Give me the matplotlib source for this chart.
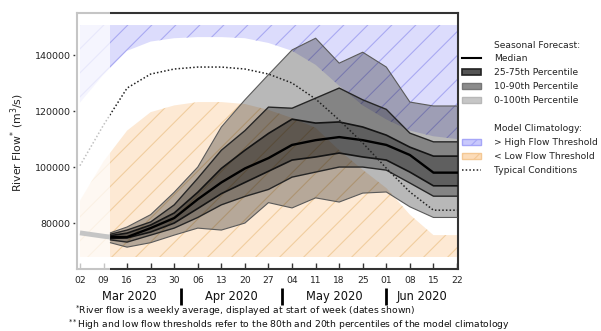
import matplotlib
matplotlib.use("Agg")
import matplotlib.pyplot as plt
import matplotlib.dates as mdates
import matplotlib.transforms as mtransforms
import numpy as np
import pandas as pd
from matplotlib.lines import Line2D
from matplotlib.patches import Patch, Rectangle
from matplotlib.collections import LineCollection

# ---------------- data ----------------
clim_dates = ["2020-03-02", "2020-03-09", "2020-03-16", "2020-03-23", "2020-03-30",
              "2020-04-06", "2020-04-13", "2020-04-20", "2020-04-27", "2020-05-04",
              "2020-05-11", "2020-05-18", "2020-05-25", "2020-06-01", "2020-06-08",
              "2020-06-15", "2020-06-22"]
high_thresh = [123000, 133000, 141500, 144800, 146000, 146400, 146400, 146000, 144300,
               141500, 136500, 129000, 122000, 117000, 113000, 111000, 110000]
low_thresh = [88000, 102000, 113000, 119600, 122000, 123200, 123200, 122500, 120400,
              117500, 114000, 106000, 99000, 92500, 83000, 75700, 75700]
typical = [100500, 115000, 128200, 133200, 135000, 135700, 135700, 135000, 133200,
           130000, 124300, 116800, 108600, 99600, 91100, 84600, 84600]
clim_top = 150700
clim_bottom = 67900

obs_dates = ["2020-03-02", "2020-03-09", "2020-03-11"]
obs_flow = [76500, 75300, 75000]

fc_dates = ["2020-03-11", "2020-03-16", "2020-03-23", "2020-03-30", "2020-04-06",
            "2020-04-13", "2020-04-20", "2020-04-27", "2020-05-04", "2020-05-11",
            "2020-05-18", "2020-05-25", "2020-06-01", "2020-06-08", "2020-06-15",
            "2020-06-22"]
p100 = [76500, 78600, 83000, 91000, 100000, 114300, 124000, 133000, 141800, 146000,
        137100, 141000, 135700, 123200, 121800, 121800]
p90 = [76000, 77500, 80400, 86500, 96000, 106000, 113000, 121400, 121000, 124600,
       128200, 124000, 120600, 112100, 109000, 109000]
p75 = [75500, 76400, 79300, 83600, 91000, 99500, 106000, 112000, 117100, 115700,
       116100, 114300, 111400, 107100, 103900, 103900]
p50 = [75000, 75000, 78200, 81800, 88500, 94500, 99500, 103200, 107900, 109600,
       110700, 109600, 107900, 104300, 98000, 98000]
p25 = [74500, 74700, 76800, 80000, 85200, 90500, 94500, 98500, 102500, 103600,
       105000, 103600, 102500, 98200, 93300, 93300]
p10 = [74000, 73200, 75700, 78200, 82000, 86500, 89500, 92000, 96400, 98200,
       100000, 100000, 98900, 94300, 89600, 89600]
p0 = [73000, 71400, 73000, 75700, 78200, 77500, 80000, 87300, 85400, 89000,
      87500, 90700, 91100, 85800, 82000, 82000]

months = ["Mar 2020", "Apr 2020", "May 2020", "Jun 2020"]
month_starts = ["2020-03-01", "2020-04-01", "2020-05-01", "2020-06-01", "2020-07-01"]

# ---------------- figure ----------------
W, H = 601, 331
fig = plt.figure(figsize=(W / 100, H / 100), dpi=100)
ax_l, ax_r, ax_t, ax_b = 77 / W, 458 / W, 1 - 13 / H, 1 - 269 / H
ax = fig.add_axes([ax_l, ax_b, ax_r - ax_l, ax_t - ax_b])

cd = pd.to_datetime(clim_dates)
fd = pd.to_datetime(fc_dates)
od = pd.to_datetime(obs_dates)

x0 = pd.Timestamp("2020-03-02") - pd.Timedelta(hours=21)
x1 = pd.Timestamp("2020-06-22") + pd.Timedelta(hours=7)
ax.set_xlim(x0, x1)
ax.set_ylim(63600, 155000)

blue_fill, blue_hatch = "#dcdcfc", "#a9a9f2"
orng_fill, orng_hatch = "#fde9d4", "#f1cd9f"

hi = ax.fill_between(cd, high_thresh, clim_top, facecolor=blue_fill, edgecolor="none", zorder=1)
lo = ax.fill_between(cd, clim_bottom, low_thresh, facecolor=orng_fill, edgecolor="none", zorder=1)

# manual sparse hatch, clipped to climatology regions
axw_px = (ax_r - ax_l) * W
axh_px = (ax_t - ax_b) * H
dx = 24 / axw_px
slope_dx = axh_px / axw_px
starts = np.arange(-1.2, 1.2, dx)
segs = [[(s, 0), (s + slope_dx, 1)] for s in starts]
for coll, col in ((hi, blue_hatch), (lo, orng_hatch)):
    lc = LineCollection(segs, colors=col, linewidths=0.8, transform=ax.transAxes, zorder=1.5)
    ax.add_collection(lc)
    lc.set_clip_path(coll.get_paths()[0], coll.get_transform())

# forecast bands
band_kw = dict(facecolor="black", alpha=0.28, edgecolor="none", zorder=3)
ax.fill_between(fd, p0, p100, **band_kw)
ax.fill_between(fd, p10, p90, **band_kw)
ax.fill_between(fd, p25, p75, **band_kw)
ax.plot(fd, p100, color="#5a5a5a", lw=0.8, zorder=4)
ax.plot(fd, p0, color="#5a5a5a", lw=0.8, zorder=4)
ax.plot(fd, p90, color="#262626", lw=1.0, zorder=4)
ax.plot(fd, p10, color="#262626", lw=1.0, zorder=4)
ax.plot(fd, p75, color="#141414", lw=1.2, zorder=4)
ax.plot(fd, p25, color="#141414", lw=1.2, zorder=4)
ax.plot(fd, p50, color="black", lw=1.7, zorder=4)
ax.plot(od, obs_flow, color="#333333", lw=3.5, zorder=4, solid_capstyle="butt")

# typical conditions
ax.plot(cd, typical, color="#222222", lw=1.1, linestyle=(0, (1, 1.4)), zorder=5)

# faded past (before forecast start)
trans = mtransforms.blended_transform_factory(ax.transData, ax.transAxes)
fstart = mdates.date2num(fd[0])
xl = mdates.date2num(x0) - 0.6
ax.add_patch(Rectangle((xl, -0.012), fstart - xl, 1.024, transform=trans,
                       facecolor="white", alpha=0.72, edgecolor="none",
                       zorder=10, clip_on=False))

# axes styling
for sp in ax.spines.values():
    sp.set_color("#333333")
    sp.set_linewidth(1.5)
ax.xaxis.set_major_locator(mdates.WeekdayLocator(byweekday=mdates.MO))
ax.xaxis.set_major_formatter(mdates.DateFormatter("%d"))
ax.tick_params(axis="x", direction="in", length=4, width=1, color="#333333",
               labelsize=6.6, pad=5, labelcolor="#222222")
ax.tick_params(axis="y", direction="out", length=3, width=1, color="#333333",
               labelsize=6.8, pad=1.5, labelcolor="#222222")
ax.set_yticks([80000, 100000, 120000, 140000])
ax.set_yticklabels(["80000", "100000", "120000", "140000"])

# month labels and separators
xt = ax.get_xaxis_transform()
ms = [mdates.date2num(pd.Timestamp(m)) for m in month_starts]
ms[0] = mdates.date2num(x0)
ms[-1] = mdates.date2num(x1)
for i, name in enumerate(months):
    ax.text((ms[i] + ms[i + 1]) / 2, -0.109, name, transform=xt, ha="center",
            va="center", fontsize=8.3, color="#111111")
for m in month_starts[1:4]:
    xm = mdates.date2num(pd.Timestamp(m))
    ax.plot([xm, xm], [-0.074, -0.142], transform=xt, color="black", lw=2.0,
            clip_on=False, solid_capstyle="butt")

fig.text(0.028, 0.57, "River Flow$^{*}$ (m$^{3}$/s)", rotation=90, ha="center",
         va="center", fontsize=7.8, color="#222222")
fig.text(75 / W, 1 - 310.5 / H, "$^{*}$River flow is a weekly average, displayed at start of week (dates shown)",
         ha="left", va="center", fontsize=6.7, color="#111111")
fig.text(68 / W, 1 - 324.5 / H,
         "$^{**}$High and low flow thresholds refer to the 80th and 20th percentiles of the model climatology",
         ha="left", va="center", fontsize=6.7, color="#111111")

# legend
blank = Line2D([], [], color="none")
handles = [
    blank,
    Line2D([], [], color="black", lw=1.5),
    Patch(facecolor="#555555", edgecolor="#222222", lw=1.2),
    Patch(facecolor="#8c8c8c", edgecolor="#777777", lw=1.0),
    Patch(facecolor="#c6c6c6", edgecolor="#b8b8b8", lw=1.0),
    blank,
    blank,
    Patch(facecolor="#c9c9fc", edgecolor="#a6a6f8", hatch="//", lw=1.0),
    Patch(facecolor="#fcdcb9", edgecolor="#f4c894", hatch="//", lw=1.0),
    Line2D([], [], color="#222222", lw=1.1, linestyle=(0, (1, 1.4))),
]
labels = ["Seasonal Forecast:", "Median", "25-75th Percentile", "10-90th Percentile",
          "0-100th Percentile", "", "Model Climatology:", "> High Flow Threshold",
          "< Low Flow Threshold", "Typical Conditions"]
plt.rcParams["hatch.linewidth"] = 0.8
fig.legend(handles, labels, loc="upper left", bbox_to_anchor=(462 / W, 1 - 40.5 / H),
           frameon=False, fontsize=6.6, handlelength=2.1, handletextpad=1.4,
           labelspacing=0.54, borderpad=0, borderaxespad=0, labelcolor="#222222")

fig.savefig("out.png", dpi=100)
